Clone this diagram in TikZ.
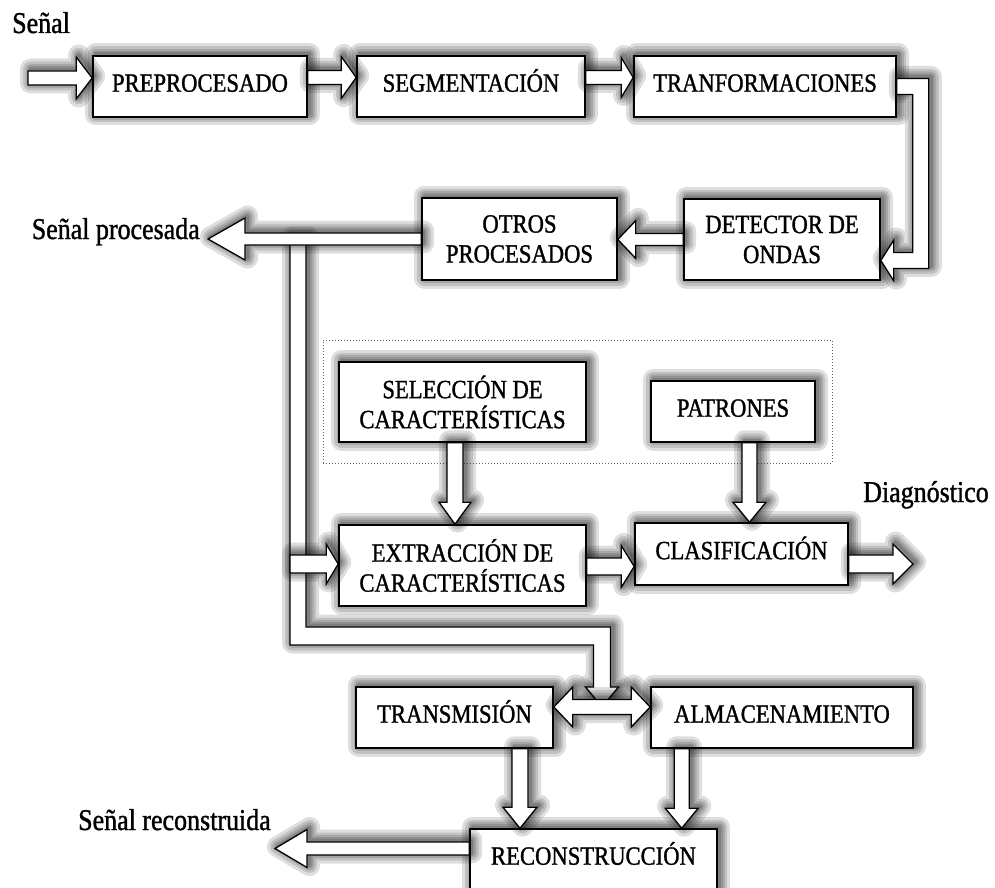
\documentclass[tikz,border=0pt]{standalone}
\usepackage{fontspec}
\setmainfont{Liberation Serif}[FakeStretch=0.86, FakeBold=1.2]
\usetikzlibrary{calc}
\newcommand{\boxfont}{\fontsize{26.3}{30}\selectfont}
\newcommand{\lblfont}{\fontsize{30.2}{32}\selectfont}
% horizontal block arrow: {head length}{head half width}{shaft half width}{start}{tip}
\newcommand{\blkH}[5]{%
 \path[barrow] let \p1=(#4), \p2=(#5), \n1={(\x2-\x1)/abs(\x2-\x1)} in
 (\x1,\y1+#3) -- ({\x2-\n1*#1},\y1+#3) -- ({\x2-\n1*#1},\y1+#2) -- (\x2,\y1) --
 ({\x2-\n1*#1},\y1-#2) -- ({\x2-\n1*#1},\y1-#3) -- (\x1,\y1-#3) -- cycle;}
% vertical (downward) block arrow
\newcommand{\blkV}[5]{%
 \path[barrow] let \p1=(#4), \p2=(#5) in
 (\x1-#3,\y1) -- (\x1-#3,\y2+#1) -- (\x1-#2,\y2+#1) -- (\x1,\y2) --
 (\x1+#2,\y2+#1) -- (\x1+#3,\y2+#1) -- (\x1+#3,\y1) -- cycle;}
% double horizontal block arrow (left to right)
\newcommand{\blkD}[5]{%
 \path[barrow] let \p1=(#4), \p2=(#5) in
 (\x1,\y1) -- (\x1+#1,\y1+#2) -- (\x1+#1,\y1+#3) -- (\x2-#1,\y1+#3) -- (\x2-#1,\y1+#2) --
 (\x2,\y1) -- (\x2-#1,\y1-#2) -- (\x2-#1,\y1-#3) -- (\x1+#1,\y1-#3) -- (\x1+#1,\y1-#2) -- cycle;}
\begin{document}
\begin{tikzpicture}[x=1pt,y=1pt,
  hl/.style={preaction={draw=black, line width=#1, opacity=0.13, line join=round,
             transform canvas={shift={(2.5pt,2pt)}}}},
  shad/.style={hl=21pt, hl=15pt, hl=10pt, hl=6pt, hl=3pt},
  box/.style={draw, line width=1.6pt, fill=white, align=center, font=\boxfont, inner sep=0pt, shad},
  one/.style={text height=17pt, text depth=6.6pt},
  barrow/.style={draw, line width=1.3pt, fill=white, line join=miter, shad},
  lbl/.style={inner sep=0pt, font=\lblfont}]
\useasboundingbox (0,0) rectangle (995,-888);

% group frame
\node[draw, dotted, black!60, line width=1pt, minimum width=509pt, minimum height=123pt, inner sep=0pt] (grp) at (577.5,-401.5) {};

% boxes
\node[box, one, minimum width=214pt, minimum height=61pt] (pre) at (200,-86.5) {PREPROCESADO};
\node[box, one, minimum width=228pt, minimum height=61pt] (seg) at (471,-86.5) {SEGMENTACIÓN};
\node[box, one, minimum width=262pt, minimum height=61pt] (tr) at (765,-86.5) {TRANFORMACIONES};
\node[box, minimum width=196pt, minimum height=81pt] (det) at (782,-239.5) {DETECTOR DE\\ONDAS};
\node[box, minimum width=195pt, minimum height=82pt] (otros) at (519.5,-239) {OTROS\\PROCESADOS};
\node[box, minimum width=247pt, minimum height=80pt] (sel) at (462.5,-402) {SELECCIÓN DE\\CARACTERÍSTICAS};
\node[box, one, minimum width=164pt, minimum height=61pt] (pat) at (733,-411.5) {PATRONES};
\node[box, minimum width=247pt, minimum height=81pt] (ext) at (462.5,-565.5) {EXTRACCIÓN DE\\CARACTERÍSTICAS};
\node[box, one, minimum width=213pt, minimum height=62pt] (cla) at (741.5,-554) {CLASIFICACIÓN};
\node[box, one, minimum width=197pt, minimum height=61pt] (trans) at (454.5,-717.5) {TRANSMISIÓN};
\node[box, one, minimum width=262pt, minimum height=61pt] (alm) at (782,-717.5) {ALMACENAMIENTO};
\node[box, one, minimum width=247pt, minimum height=61pt] (rec) at (593.5,-859.5) {RECONSTRUCCIÓN};

% labels
\node[lbl, anchor=base west] (lsen) at (12,-33) {Señal};
\node[lbl, anchor=base east] (lproc) at (200,-239) {Señal procesada};
\node[lbl, anchor=base west] (ldiag) at (863,-502) {Diagnóstico};
\node[lbl, anchor=base west] (lrec) at (78,-830) {Señal reconstruida};

% free ends
\coordinate (in) at (28,-78);
\coordinate (sp) at (208,-239);
\coordinate (dg) at (913,-564);
\coordinate (sr) at (275,-848.5);
\coordinate (br) at (298,-239);
\coordinate (mid) at ($(trans.east)!0.5!(alm.west)+(0,10.5)$);

% top chain
\blkH{16}{21}{7}{in}{pre.west}
\blkH{15}{21}{7}{$(pre.east)+(0,9)$}{seg.west}
\blkH{12}{20}{7}{$(seg.east)+(0,9)$}{tr.west}
% TRANFORMACIONES -> DETECTOR DE ONDAS
\path[barrow] let \p1=(tr.east), \p2=(det.east) in
 (\x1,\y1+8) -- (\x1+32,\y1+8) -- (\x1+32,\y2-29) -- (\x2+13,\y2-29) -- (\x2+13,\y2-41.5) --
 (\x2,\y2-21) -- (\x2+13,\y2-0.5) -- (\x2+13,\y2-13) -- (\x1+16,\y2-13) -- (\x1+16,\y1-8) --
 (\x1,\y1-8) -- cycle;
\blkH{18}{19}{6}{det.west}{otros.east}

% branch network
\path[barrow] let \p1=(br), \p2=(mid) in
 (\x1-8,\y1) -- (\x1-8,\y2+62) -- (\x2-8.5,\y2+62) -- (\x2-8.5,\y2+20) -- (\x2-16.5,\y2+20) --
 (\x2,\y2) -- (\x2+16.5,\y2+20) -- (\x2+8.5,\y2+20) -- (\x2+8.5,\y2+80) -- (\x1+8,\y2+80) --
 (\x1+8,\y1) -- cycle;
\blkH{37}{21}{6}{otros.west}{sp}
\blkH{12}{20}{9}{$(br |- ext.west)+(-8,1.5)$}{ext.west}

% feature arrows
\blkV{22}{16}{8}{$(sel.south)+(-7.5,0)$}{ext.north}
\blkV{20}{16.5}{7.5}{$(pat.south)+(16.5,0)$}{cla.north}
\blkH{13}{21}{8.5}{$(ext.east)+(0,-1)$}{cla.west}
\blkH{20}{20}{9}{$(cla.east)+(0,-10)$}{dg}

% storage / transmission
\blkD{19}{20}{7.5}{$(trans.east)+(0,10.5)$}{alm.west}
\blkV{21}{17}{8}{$(trans.south)+(65.5,0)$}{rec.north}
\blkV{20}{16.5}{7.5}{$(alm.south west)+(31.5,0)$}{rec.north}
\blkH{32}{19}{6.5}{$(rec.west)+(0,11)$}{sr}
\end{tikzpicture}
\end{document}
